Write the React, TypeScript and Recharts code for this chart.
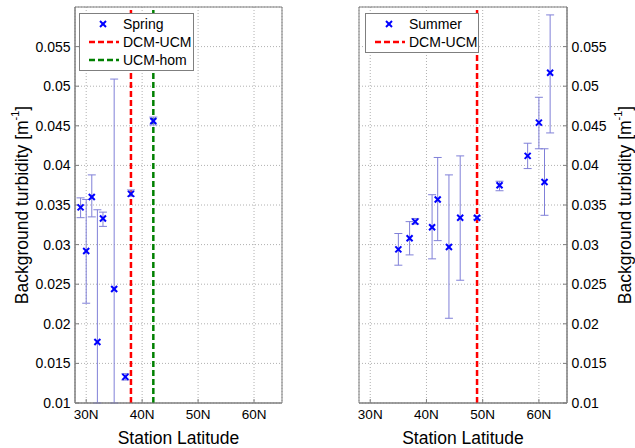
import React from "react"
import {
  CartesianGrid,
  ErrorBar,
  Legend,
  ReferenceArea,
  ReferenceLine,
  Scatter,
  ScatterChart,
  XAxis,
  YAxis,
} from "recharts"

const FONT = '"Liberation Sans", Arial, Helvetica, sans-serif'

// axis ticks
const latTicks = [30, 40, 50, 60]
const turbTicks = [0.01, 0.015, 0.02, 0.025, 0.03, 0.035, 0.04, 0.045, 0.05, 0.055]

// spring stations (lower bounds of 32N and 35N run off the bottom of the axes)
const springLat = [29, 30, 31, 32, 33, 35, 37, 38, 42]
const springMean = [0.0347, 0.0292, 0.036, 0.0177, 0.0333, 0.0244, 0.0133, 0.0364, 0.0456]
const springLow = [0.0334, 0.0226, 0.0335, 0.01, 0.0323, 0.01, 0.0129, 0.0361, 0.0451]
const springHigh = [0.0359, 0.0357, 0.0388, 0.0344, 0.0341, 0.0509, 0.0137, 0.0369, 0.0461]
const springBreakLat = [38, 42]
const springBreakName = ["DCM-UCM", "UCM-hom"]

// summer stations
const summerLat = [35, 37, 38, 41, 42, 44, 46, 49, 53, 58, 60, 61, 62]
const summerMean = [0.0294, 0.0308, 0.0329, 0.0322, 0.0357, 0.0297, 0.0334, 0.0334, 0.0375, 0.0412, 0.0454, 0.0379, 0.0517]
const summerLow = [0.0274, 0.0287, 0.0326, 0.0282, 0.0305, 0.0207, 0.0255, 0.0332, 0.0368, 0.0396, 0.0421, 0.0337, 0.0441]
const summerHigh = [0.0314, 0.0329, 0.0333, 0.0363, 0.041, 0.0388, 0.0412, 0.0336, 0.038, 0.0428, 0.0486, 0.0421, 0.059]
const summerBreakLat = [49]
const summerBreakName = ["DCM-UCM"]

const breakColors = ["#ff0000", "#008000"]

const toRows = (lat: number[], mean: number[], low: number[], high: number[]) =>
  lat.map((l, i) => ({ lat: l, v: mean[i], err: [mean[i] - low[i], high[i] - mean[i]] }))

const XMark = (props: any) => {
  const { cx, cy } = props
  const r = 3
  return (
    <g stroke="#0000ff" strokeWidth={2}>
      <line x1={cx - r} y1={cy - r} x2={cx + r} y2={cy + r} />
      <line x1={cx - r} y1={cy + r} x2={cx + r} y2={cy - r} />
    </g>
  )
}

const TurbLabel = (props: any) => {
  const { viewBox, side } = props
  const cx = side === "left" ? viewBox.x + 22 : viewBox.x + 58
  const cy = viewBox.y + viewBox.height / 2
  return (
    <text
      x={cx}
      y={cy}
      transform={`rotate(-90 ${cx} ${cy})`}
      textAnchor="middle"
      dominantBaseline="central"
      fontSize={17.5}
      fontFamily={FONT}
      fill="#000"
    >
      Background turbidity [m
      <tspan dy={-7} fontSize={11}>-1</tspan>
      <tspan dy={7}>]</tspan>
    </text>
  )
}

const LegendBox = ({ name, breaks }: { name: string; breaks: string[] }) => (
  <div
    style={{
      border: "1px solid #7f7f7f",
      background: "#fff",
      padding: "1px 0 1px 8px",
      fontFamily: FONT,
      fontSize: 14,
      color: "#000",
    }}
  >
    <div style={{ display: "flex", alignItems: "center", height: 18 }}>
      <svg width={32} height={18}>
        <XMark cx={15} cy={9} />
      </svg>
      <span style={{ marginLeft: 3 }}>{name}</span>
    </div>
    {breaks.map((b, i) => (
      <div key={b} style={{ display: "flex", alignItems: "center", height: 18 }}>
        <svg width={32} height={18}>
          <line x1={1} x2={31} y1={9} y2={9} stroke={breakColors[i]} strokeWidth={2.5} strokeDasharray="6 3" />
        </svg>
        <span style={{ marginLeft: 3 }}>{b}</span>
      </div>
    ))}
  </div>
)

const Panel = (props: {
  side: "left" | "right"
  name: string
  rows: any[]
  breakLat: number[]
  breakName: string[]
}) => {
  const { side, name, rows, breakLat, breakName } = props
  const isLeft = side === "left"
  const tickStyle = { fill: "#000", fontSize: 14, fontFamily: FONT }
  return (
    <div style={{ position: "absolute", left: isLeft ? 0 : 290, top: 0 }}>
      <ScatterChart
        width={isLeft ? 290 : 345}
        height={448}
        margin={isLeft ? { top: 7, right: 8, left: 0, bottom: 0 } : { top: 7, right: 0, left: 69, bottom: 0 }}
      >
        <CartesianGrid stroke="#b0b0b0" strokeDasharray="1 2" />
        <XAxis
          dataKey="lat"
          type="number"
          domain={[28, 65]}
          ticks={latTicks}
          tickFormatter={(v: number) => `${v}N`}
          height={45}
          tickSize={-4}
          tickMargin={10}
          tick={{ ...tickStyle, fontSize: 13.5 }}
          stroke="#7f7f7f"
          label={{
            value: "Station Latitude",
            position: "insideBottom",
            offset: 4,
            fontSize: 17.5,
            fontFamily: FONT,
            fill: "#000",
          }}
        />
        <YAxis
          dataKey="v"
          type="number"
          orientation={side}
          domain={[0.01, 0.06]}
          allowDataOverflow
          ticks={turbTicks}
          tickFormatter={(v: number) => String(Number(v.toFixed(3)))}
          width={isLeft ? 75 : 68}
          tickSize={-4}
          tickMargin={8.5}
          tick={tickStyle}
          stroke="#7f7f7f"
          label={<TurbLabel side={side} />}
        />
        <ReferenceArea x1={28} x2={65} y1={0.01} y2={0.06} fill="none" stroke="#7f7f7f" strokeWidth={1} />
        {breakLat.map((b, i) => (
          <ReferenceLine key={b} x={b} stroke={breakColors[i]} strokeWidth={2.5} strokeDasharray="6 3" />
        ))}
        <Scatter name={name} data={rows} shape={<XMark />} isAnimationActive={false}>
          <ErrorBar dataKey="err" direction="y" width={4} stroke="#8080d8" strokeWidth={1} />
        </Scatter>
        <Legend
          verticalAlign="middle"
          align="center"
          wrapperStyle={{ left: isLeft ? 79 : 75, top: 13, width: isLeft ? 115 : 114 }}
          content={() => <LegendBox name={name} breaks={breakName} />}
        />
      </ScatterChart>
    </div>
  )
}

export default function App() {
  return (
    <div style={{ position: "relative", width: 635, height: 448, background: "#fff" }}>
      <style>{"body{margin:0}"}</style>
      <Panel
        side="left"
        name="Spring"
        rows={toRows(springLat, springMean, springLow, springHigh)}
        breakLat={springBreakLat}
        breakName={springBreakName}
      />
      <Panel
        side="right"
        name="Summer"
        rows={toRows(summerLat, summerMean, summerLow, summerHigh)}
        breakLat={summerBreakLat}
        breakName={summerBreakName}
      />
    </div>
  )
}
